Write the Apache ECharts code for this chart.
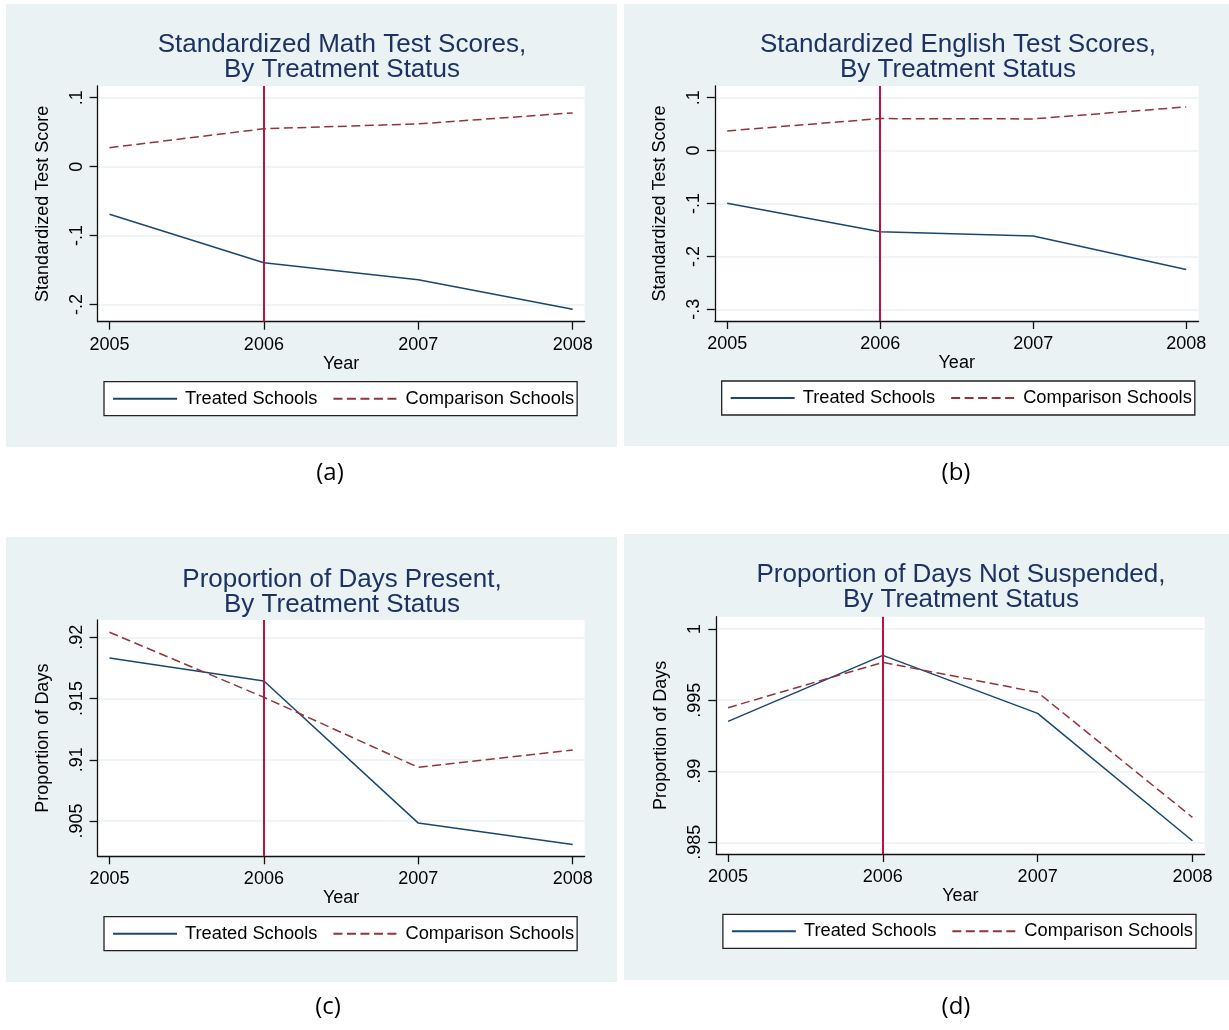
<!DOCTYPE html>
<html><head><meta charset="utf-8">
<script src="https://cdn.jsdelivr.net/npm/echarts@6/dist/echarts.min.js"></script>
<style>html,body{margin:0;padding:0;background:#fff}#c{width:1229px;height:1030px}</style>
</head><body><div id="c"></div><script>
// ---- data ----
const years = [2005, 2006, 2007, 2008];
const seriesNames = ['Treated Schools', 'Comparison Schools'];
const treatmentYear = 2006;

const mathTreated = [-0.069, -0.1395, -0.164, -0.207];
const mathComparison = [0.0275, 0.055, 0.062, 0.078];
const englishTreated = [-0.0994, -0.1534, -0.1615, -0.2245];
const englishComparison = [0.0372, 0.0604, 0.0598, 0.0825];
const presentTreated = [0.91831, 0.91643, 0.90483, 0.90309];
const presentComparison = [0.92041, 0.9151, 0.90938, 0.91079];
const notSuspTreated = [0.99351, 0.99815, 0.99407, 0.98511];
const notSuspComparison = [0.99447, 0.99766, 0.99555, 0.98676];

const mathTicks = [-0.2, -0.1, 0, 0.1];
const mathTickLabels = ['-.2', '-.1', '0', '.1'];
const englishTicks = [-0.3, -0.2, -0.1, 0, 0.1];
const englishTickLabels = ['-.3', '-.2', '-.1', '0', '.1'];
const presentTicks = [0.905, 0.91, 0.915, 0.92];
const presentTickLabels = ['.905', '.91', '.915', '.92'];
const notSuspTicks = [0.985, 0.99, 0.995, 1];
const notSuspTickLabels = ['.985', '.99', '.995', '1'];
const yearLabels = ['2005', '2006', '2007', '2008'];

const titles = [
  'Standardized Math Test Scores,\nBy Treatment Status',
  'Standardized English Test Scores,\nBy Treatment Status',
  'Proportion of Days Present,\nBy Treatment Status',
  'Proportion of Days Not Suspended,\nBy Treatment Status'
];
const yNames = ['Standardized Test Score', 'Standardized Test Score', 'Proportion of Days', 'Proportion of Days'];
const xName = 'Year';
const captions = ['(a)', '(b)', '(c)', '(d)'];

// ---- layout ----
const panels = [
  {treated: mathTreated, comparison: mathComparison, ticks: mathTicks, tickLabels: mathTickLabels,
   yRange: [-0.225, 0.117], xRange: [2004.923, 2008.077],
   grid: {left: 97.6, top: 86, width: 487, height: 235.7}, bg: [6, 4, 611, 443],
   titleX: 342, titleTop: 32.5, legend: {left: 104, top: 381.7}, capX: 330, capTop: 459},
  {treated: englishTreated, comparison: englishComparison, ticks: englishTicks, tickLabels: englishTickLabels,
   yRange: [-0.322, 0.122], xRange: [2004.919, 2008.081],
   grid: {left: 714.8, top: 86, width: 483.8, height: 235}, bg: [624, 4, 605, 442],
   titleX: 958, titleTop: 32.5, legend: {left: 721.7, top: 381}, capX: 956, capTop: 459},
  {treated: presentTreated, comparison: presentComparison, ticks: presentTicks, tickLabels: presentTickLabels,
   yRange: [0.90212, 0.92141], xRange: [2004.923, 2008.077],
   grid: {left: 97.6, top: 620, width: 487, height: 236.3}, bg: [6, 537, 611, 445],
   titleX: 342, titleTop: 567, legend: {left: 104, top: 916.7}, capX: 328, capTop: 993},
  {treated: notSuspTreated, comparison: notSuspComparison, ticks: notSuspTicks, tickLabels: notSuspTickLabels,
   yRange: [0.98418, 1.00087], xRange: [2004.924, 2008.078],
   grid: {left: 716.3, top: 616.7, width: 488.2, height: 237.3}, bg: [624, 534, 605, 446],
   titleX: 961, titleTop: 562.5, legend: {left: 722.9, top: 914.3}, capX: 956, capTop: 993}
];

const FONT = '"Liberation Sans", Arial, sans-serif';
const BG = '#eaf2f3';
const TREATED = '#1a476f';
const COMPARISON = '#90353b';
const VLINE = '#c0103e';
const TITLE = '#1c3264';

const option = {
  animation: false,
  backgroundColor: '#ffffff',
  textStyle: {fontFamily: FONT},
  graphic: panels.map(p => ({type: 'rect', z: -10, silent: true,
    shape: {x: p.bg[0], y: p.bg[1], width: p.bg[2], height: p.bg[3]}, style: {fill: BG}})),
  title: [],
  legend: [],
  grid: [],
  xAxis: [],
  yAxis: [],
  series: []
};

panels.forEach((p, i) => {
  option.title.push({text: titles[i], left: p.titleX, top: p.titleTop, textAlign: 'center', padding: 0,
    textStyle: {fontFamily: FONT, fontSize: 26, lineHeight: 25, fontWeight: 'normal', color: TITLE}});
  option.title.push({text: captions[i], left: p.capX, top: p.capTop, textAlign: 'center', padding: 0,
    textStyle: {fontFamily: '"Open Sans", "Noto Sans", sans-serif', fontSize: 24, lineHeight: 28, fontWeight: 'normal', color: '#000'}});
  option.grid.push(Object.assign({show: true, backgroundColor: '#ffffff', borderWidth: 0}, p.grid));
  option.legend.push({
    data: seriesNames, left: p.legend.left, top: p.legend.top, orient: 'horizontal',
    selectedMode: false, itemWidth: 64, itemHeight: 14, itemGap: 15,
    itemStyle: {opacity: 0},
    padding: [7, 3, 7, 8], backgroundColor: '#ffffff', borderColor: '#222', borderWidth: 1.3, borderRadius: 0,
    textStyle: {fontFamily: FONT, fontSize: 18.3, color: '#000', padding: [0, 0, 0, 3], lineHeight: 20}
  });
  option.xAxis.push({
    type: 'value', gridIndex: i, min: p.xRange[0], max: p.xRange[1],
    name: xName, nameLocation: 'middle', nameGap: 32,
    nameTextStyle: {fontFamily: FONT, fontSize: 18, color: '#000'},
    axisLine: {show: true, onZero: false, lineStyle: {color: '#111', width: 1.3}},
    axisTick: {show: true, length: 8, customValues: years, lineStyle: {color: '#111', width: 1.3}},
    axisLabel: {show: true, customValues: years, margin: 14, fontFamily: FONT, fontSize: 18, color: '#000',
      formatter: v => yearLabels[years.indexOf(Math.round(v))]},
    splitLine: {show: false}
  });
  option.yAxis.push({
    type: 'value', gridIndex: i, min: p.yRange[0], max: p.yRange[1],
    name: yNames[i], nameLocation: 'middle', nameGap: 46, nameRotate: 90,
    nameTextStyle: {fontFamily: FONT, fontSize: 18, color: '#000'},
    axisLine: {show: true, onZero: false, lineStyle: {color: '#111', width: 1.3}},
    axisTick: {show: true, length: 8, customValues: p.ticks, lineStyle: {color: '#111', width: 1.3}},
    axisLabel: {show: true, customValues: p.ticks, rotate: 90, margin: 12, fontFamily: FONT, fontSize: 18, color: '#000',
      formatter: v => {
        let best = 0;
        p.ticks.forEach((t, k) => { if (Math.abs(t - v) < Math.abs(p.ticks[best] - v)) best = k; });
        return p.tickLabels[best];
      }},
    splitLine: {show: true, lineStyle: {color: BG, width: 1.5}}
  });
  option.series.push({
    name: seriesNames[0], type: 'line', xAxisIndex: i, yAxisIndex: i, symbol: 'none',
    data: years.map((y, j) => [y, p.treated[j]]),
    lineStyle: {color: TREATED, width: 1.5}, itemStyle: {color: TREATED},
    markLine: {silent: true, symbol: 'none', label: {show: false},
      lineStyle: {color: VLINE, width: 2, type: 'solid'},
      data: [{xAxis: treatmentYear}]}
  });
  option.series.push({
    name: seriesNames[1], type: 'line', xAxisIndex: i, yAxisIndex: i, symbol: 'none',
    data: years.map((y, j) => [y, p.comparison[j]]),
    lineStyle: {color: COMPARISON, width: 1.5, type: [9, 4.5]}, itemStyle: {color: COMPARISON}
  });
});

const chart = echarts.init(document.getElementById('c'), null, {renderer: 'canvas'});
chart.setOption(option);
</script></body></html>
